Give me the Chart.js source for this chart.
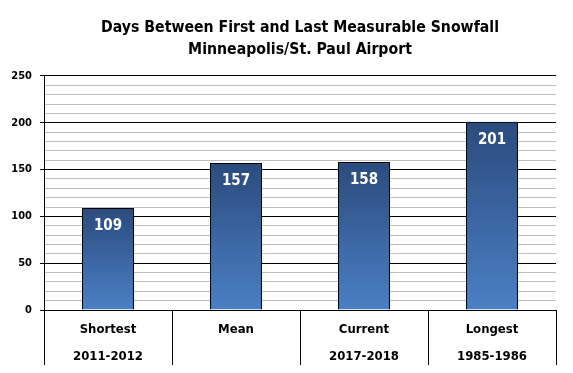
<!DOCTYPE html>
<html>
<head>
<meta charset="utf-8">
<script src="https://cdn.jsdelivr.net/npm/chart.js@4"></script>
<style>
  html, body { margin: 0; padding: 0; background: #fff; }
  #wrap { width: 573px; height: 373px; }
</style>
</head>
<body>
<div id="wrap"><canvas id="snowChart"></canvas></div>
<script>
/* data */
const categories = ['Shortest', 'Mean', 'Current', 'Longest'];
const seasons = ['2011-2012', '', '2017-2018', '1985-1986'];
const days = [109, 157, 158, 201];
const yTicks = [0, 50, 100, 150, 200, 250];

const FONT = "'Liberation Sans Narrow', 'DejaVu Sans Condensed', 'Arial Narrow', sans-serif";

const labels = categories.map((c, i) => [c, seasons[i]]);

function barGradient(context) {
    const chart = context.chart;
    const y = chart.scales.y;
    if (!chart.chartArea || !y) return '#3d6aa8';
    const v = context.raw;
    const top = y.getPixelForValue(v);
    const bottom = y.getPixelForValue(0);
    const g = chart.ctx.createLinearGradient(0, top, 0, bottom);
    g.addColorStop(0, '#2b4b7d');
    g.addColorStop(1, '#4a80c5');
    return g;
}

/* value labels inside bars */
const valueLabels = {
    id: 'valueLabels',
    afterDatasetsDraw(chart) {
        const ctx = chart.ctx;
        const meta = chart.getDatasetMeta(0);
        ctx.save();
        ctx.fillStyle = '#ffffff';
        ctx.font = 'bold 15px ' + FONT;
        ctx.textAlign = 'center';
        ctx.textBaseline = 'middle';
        meta.data.forEach((bar, i) => {
            ctx.fillText(days[i], bar.x, bar.y + 18);
        });
        ctx.restore();
    }
};

new Chart(document.getElementById('snowChart'), {
    type: 'bar',
    data: {
        labels: labels,
        datasets: [{
            data: days,
            backgroundColor: barGradient,
            borderColor: '#000000',
            borderWidth: 1,
            borderSkipped: 'bottom',
            barPercentage: 0.40625,
            categoryPercentage: 1
        }]
    },
    options: {
        responsive: true,
        maintainAspectRatio: false,
        animation: false,
        layout: { padding: { top: 0, right: 17, bottom: 0, left: 0 } },
        plugins: {
            legend: { display: false },
            tooltip: { enabled: false },
            title: {
                display: true,
                fullSize: false,
                text: ['Days Between First and Last Measurable Snowfall', 'Minneapolis/St. Paul Airport'],
                color: '#000000',
                font: { family: FONT, size: 15.7, weight: 'bold', lineHeight: 1.4 },
                padding: { top: 17, bottom: 15 }
            }
        },
        scales: {
            x: {
                grid: {
                    offset: true,
                    drawOnChartArea: false,
                    drawTicks: true,
                    tickLength: 55,
                    tickColor: '#000000',
                    lineWidth: 1
                },
                border: { display: true, color: '#000000', width: 1 },
                ticks: {
                    color: '#000000',
                    font: { family: FONT, size: 13, weight: 'bold', lineHeight: 2.1 },
                    padding: -49,
                    maxRotation: 0,
                    autoSkip: false
                },
                afterFit(scale) { scale.height = 63; }
            },
            y: {
                min: 0,
                max: 250,
                afterBuildTicks(scale) {
                    const t = [];
                    for (let v = 0; v <= 250; v += 10) t.push({ value: v });
                    scale.ticks = t;
                },
                grid: {
                    color: (c) => (c.tick && c.tick.value % 50 === 0) ? '#000000' : '#c0c0c0',
                    tickColor: (c) => (c.tick && c.tick.value % 50 === 0) ? '#000000' : 'rgba(0,0,0,0)',
                    tickLength: 4,
                    lineWidth: 1
                },
                border: { display: true, color: '#000000', width: 1 },
                ticks: {
                    color: '#000000',
                    font: { family: FONT, size: 11, weight: 'bold' },
                    padding: 8,
                    autoSkip: false,
                    callback: (v) => yTicks.includes(v) ? v : ''
                },
                afterFit(scale) { scale.width = 44; }
            }
        }
    },
    plugins: [valueLabels]
});
</script>
</body>
</html>
